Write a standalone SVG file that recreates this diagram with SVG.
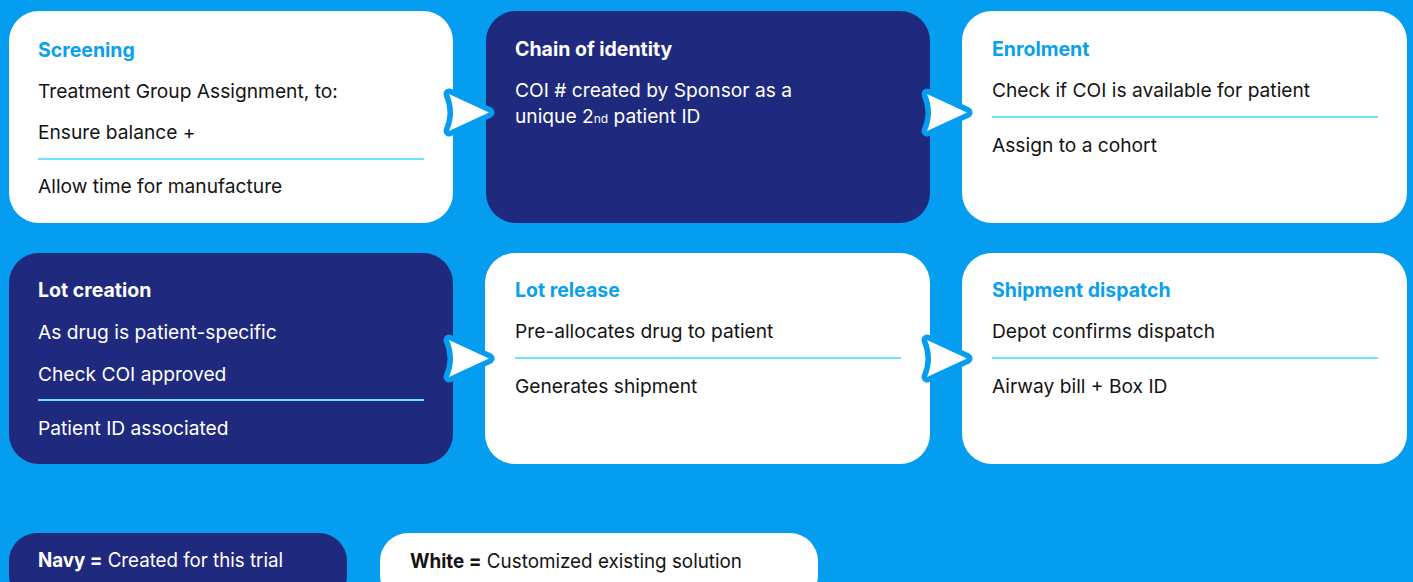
<svg xmlns="http://www.w3.org/2000/svg" width="1413" height="582" viewBox="0 0 1413 582">
  <defs>
    <style>
      .bg { fill: #049DF0; }
      .card-white { fill: #FFFFFF; }
      .card-navy { fill: #1F2A7E; }
      .title { font-family: Inter, "Liberation Sans", sans-serif; font-size: 19.5px; font-weight: 700; }
      .body { font-family: Inter, "Liberation Sans", sans-serif; font-size: 19.2px; font-weight: 400; }
      .t-blue { fill: #0AA0EC; }
      .t-white { fill: #FFFFFF; }
      .t-dark { fill: #141414; }
      .rule { stroke: #6FE2FC; stroke-width: 2; }
      .chevron { fill: #FFFFFF; stroke: #049DF0; stroke-width: 11; stroke-linejoin: round; paint-order: stroke; }
      .legend { font-family: Inter, "Liberation Sans", sans-serif; font-size: 20px; }
    </style>
    <path id="chev" d="M0,0 L40,18.5 L0,37 Q8,18.5 0,0 Z"/>
  </defs>

  <rect class="bg" x="0" y="0" width="1413" height="582"/>

  <!-- Row 1 -->
  <g id="screening">
    <rect class="card-white" x="9" y="11" width="444" height="212" rx="30"/>
    <text class="title t-blue" x="38" y="57">Screening</text>
    <text class="body t-dark" x="38" y="98">Treatment Group Assignment, to:</text>
    <text class="body t-dark" x="38" y="139">Ensure balance +</text>
    <line class="rule" x1="38" y1="159" x2="424" y2="159"/>
    <text class="body t-dark" x="38" y="193">Allow time for manufacture</text>
  </g>

  <g id="chain-of-identity">
    <rect class="card-navy" x="486" y="11" width="444" height="212" rx="30"/>
    <text class="title t-white" x="515" y="56">Chain of identity</text>
    <text class="body t-white" x="515" y="97">COI # created by Sponsor as a</text>
    <text class="body t-white" x="515" y="123">unique 2<tspan font-size="12">nd</tspan> patient ID</text>
  </g>

  <g id="enrolment">
    <rect class="card-white" x="962" y="11" width="445" height="212" rx="30"/>
    <text class="title t-blue" x="992" y="56">Enrolment</text>
    <text class="body t-dark" x="992" y="97">Check if COI is available for patient</text>
    <line class="rule" x1="992" y1="117" x2="1378" y2="117"/>
    <text class="body t-dark" x="992" y="152">Assign to a cohort</text>
  </g>

  <!-- Row 2 -->
  <g id="lot-creation">
    <rect class="card-navy" x="9" y="253" width="444" height="211" rx="30"/>
    <text class="title t-white" x="38" y="297">Lot creation</text>
    <text class="body t-white" x="38" y="339">As drug is patient-specific</text>
    <text class="body t-white" x="38" y="381">Check COI approved</text>
    <line class="rule" x1="38" y1="400" x2="424" y2="400"/>
    <text class="body t-white" x="38" y="435">Patient ID associated</text>
  </g>

  <g id="lot-release">
    <rect class="card-white" x="485" y="253" width="445" height="211" rx="30"/>
    <text class="title t-blue" x="515" y="297">Lot release</text>
    <text class="body t-dark" x="515" y="338">Pre-allocates drug to patient</text>
    <line class="rule" x1="515" y1="358" x2="901" y2="358"/>
    <text class="body t-dark" x="515" y="393">Generates shipment</text>
  </g>

  <g id="shipment-dispatch">
    <rect class="card-white" x="962" y="253" width="445" height="211" rx="30"/>
    <text class="title t-blue" x="992" y="297">Shipment dispatch</text>
    <text class="body t-dark" x="992" y="338">Depot confirms dispatch</text>
    <line class="rule" x1="992" y1="358" x2="1378" y2="358"/>
    <text class="body t-dark" x="992" y="393">Airway bill + Box ID</text>
  </g>

  <!-- Flow chevrons between cards -->
  <g id="connectors">
    <use href="#chev" class="chevron" x="449" y="94"/>
    <use href="#chev" class="chevron" x="927" y="94"/>
    <use href="#chev" class="chevron" x="449" y="340"/>
    <use href="#chev" class="chevron" x="927" y="340"/>
  </g>

  <!-- Legend -->
  <g id="legend-navy">
    <rect class="card-navy" x="9" y="533" width="338" height="70" rx="28"/>
    <text class="legend t-white" x="38" y="567" textLength="245" lengthAdjust="spacingAndGlyphs"><tspan font-weight="700">Navy =</tspan> Created for this trial</text>
  </g>
  <g id="legend-white">
    <rect class="card-white" x="380" y="533" width="438" height="70" rx="28"/>
    <text class="legend t-dark" x="410" y="568" textLength="332" lengthAdjust="spacingAndGlyphs"><tspan font-weight="700">White =</tspan> Customized existing solution</text>
  </g>
</svg>
